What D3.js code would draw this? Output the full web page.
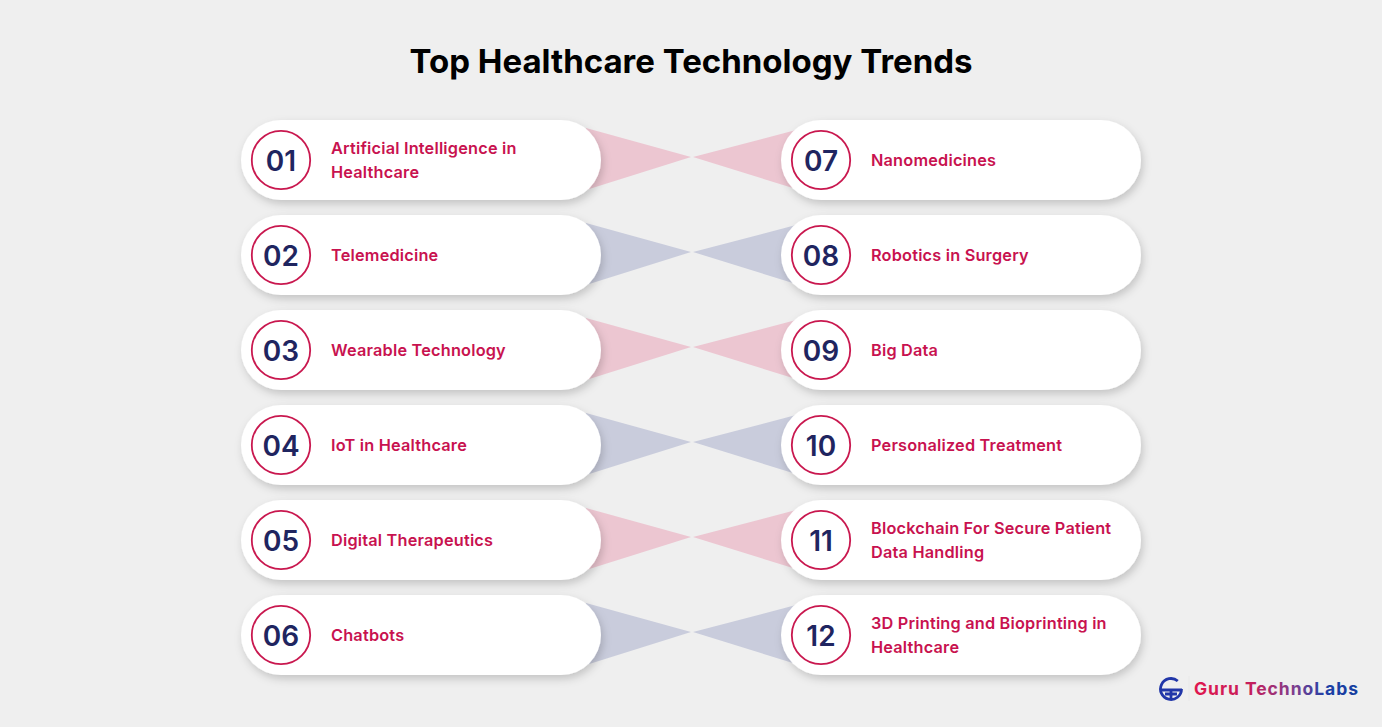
<!DOCTYPE html>
<html>
<head>
<meta charset="utf-8">
<script src="https://cdn.jsdelivr.net/npm/d3@7"></script>
<style>
html, body { margin: 0; padding: 0; background: #efefef; }
svg { display: block; }
text { font-family: Inter, "Open Sans", sans-serif; }
</style>
</head>
<body>
<svg id="svgimg" width="1382" height="727"></svg>
<script>
const title = "Top Healthcare Technology Trends"
const numbers = ["01","02","03","04","05","06","07","08","09","10","11","12"]
const labels = [
  ["Artificial Intelligence in","Healthcare"],
  ["Telemedicine"],
  ["Wearable Technology"],
  ["IoT in Healthcare"],
  ["Digital Therapeutics"],
  ["Chatbots"],
  ["Nanomedicines"],
  ["Robotics in Surgery"],
  ["Big Data"],
  ["Personalized Treatment"],
  ["Blockchain For Secure Patient","Data Handling"],
  ["3D Printing and Bioprinting in","Healthcare"]
]
const rows = [0,1,2,3,4,5]
const columns = ["left","right"]
const wedgeColors = ["#ecc6d1","#c9ccdc"]

const pillW = 360, pillH = 80
let y = d3.scalePoint().domain(rows).range([160,635])
let x = d3.scalePoint().domain(columns).range([241,781])
let svg = d3.select('#svgimg')

let defs = svg.append("defs")
let shadow = defs.append("filter").attr("id","pillShadow")
  .attr("x","-10%").attr("y","-20%").attr("width","125%").attr("height","150%")
shadow.append("feDropShadow").attr("dx",2).attr("dy",4).attr("stdDeviation",4)
  .attr("flood-color","#000").attr("flood-opacity",0.18)
let brand = defs.append("linearGradient").attr("id","brandText")
  .attr("gradientUnits","userSpaceOnUse").attr("x1",1194).attr("x2",1359).attr("y1",0).attr("y2",0)
brand.append("stop").attr("offset","0%").attr("stop-color","#e0174f")
brand.append("stop").attr("offset","35%").attr("stop-color","#c41f5c")
brand.append("stop").attr("offset","62%").attr("stop-color","#7a3f90")
brand.append("stop").attr("offset","80%").attr("stop-color","#1f3fa6")
brand.append("stop").attr("offset","100%").attr("stop-color","#163c9e")

svg.append("text").attr("x",691).attr("y",73).attr("text-anchor","middle")
  .attr("font-size",33).attr("font-weight",700).attr("fill","#000").text(title)

// the crossing wedges between both columns
rows.forEach(function (r) {
  let cy = y(r)
  let color = wedgeColors[r % 2]
  svg.append("polygon")
    .attr("points", [[586,cy-32],[691,cy-3],[586,cy+30]].join(' '))
    .attr("fill", color)
  svg.append("polygon")
    .attr("points", [[796,cy-30],[693,cy-3],[796,cy+29]].join(' '))
    .attr("fill", color)
})

numbers.forEach(function (num, i) {
  let col = columns[i < 6 ? 0 : 1]
  let cy = y(i % 6)
  let px = x(col)
  let g = svg.append("g")
  g.append("rect")
    .attr("x", px).attr("y", cy-pillH/2)
    .attr("width", pillW).attr("height", pillH)
    .attr("rx", 40).attr("ry", 40)
    .attr("fill", "#fff")
    .attr("filter", "url(#pillShadow)")
  g.append("circle")
    .attr("cx", px+40).attr("cy", cy).attr("r", 29.2)
    .attr("fill", "#fff")
    .attr("stroke", "#c9184f")
    .attr("stroke-width", 1.8)
  g.append("text")
    .attr("x", px+40).attr("y", cy+11)
    .attr("text-anchor", "middle")
    .attr("font-size", 28).attr("font-weight", 600)
    .attr("fill", "#1f2560")
    .text(num)
  let lines = labels[i]
  let t = g.append("text")
    .attr("font-size", 16.3).attr("font-weight", 600)
    .attr("letter-spacing", 0.2)
    .attr("fill", "#c8124f")
  lines.forEach(function (line, k) {
    t.append("tspan")
      .attr("x", px+90)
      .attr("y", lines.length == 2 ? cy-6+k*24 : cy+6)
      .text(line)
  })
})

// logo
let logo = svg.append("g").attr("fill","none").attr("stroke","#2136a8").attr("stroke-width",2.8)
logo.append("path").attr("d", d3.arc()({innerRadius:10.5,outerRadius:10.5,startAngle:Math.PI/2,endAngle:Math.PI*2+0.7}))
  .attr("transform","translate(1171,689)")
logo.append("path").attr("d","M1161 690H1182M1171 690V700M1165 694H1177")
svg.append("line").attr("x1",1189).attr("x2",1189).attr("y1",676).attr("y2",701)
  .attr("stroke","#e9e9e9").attr("stroke-width",1)

svg.append("text").attr("x",1194).attr("y",695)
  .attr("font-size",17.5).attr("font-weight",700).attr("letter-spacing",0.95)
  .attr("fill","url(#brandText)").text("Guru TechnoLabs")
</script>
</body>
</html>
